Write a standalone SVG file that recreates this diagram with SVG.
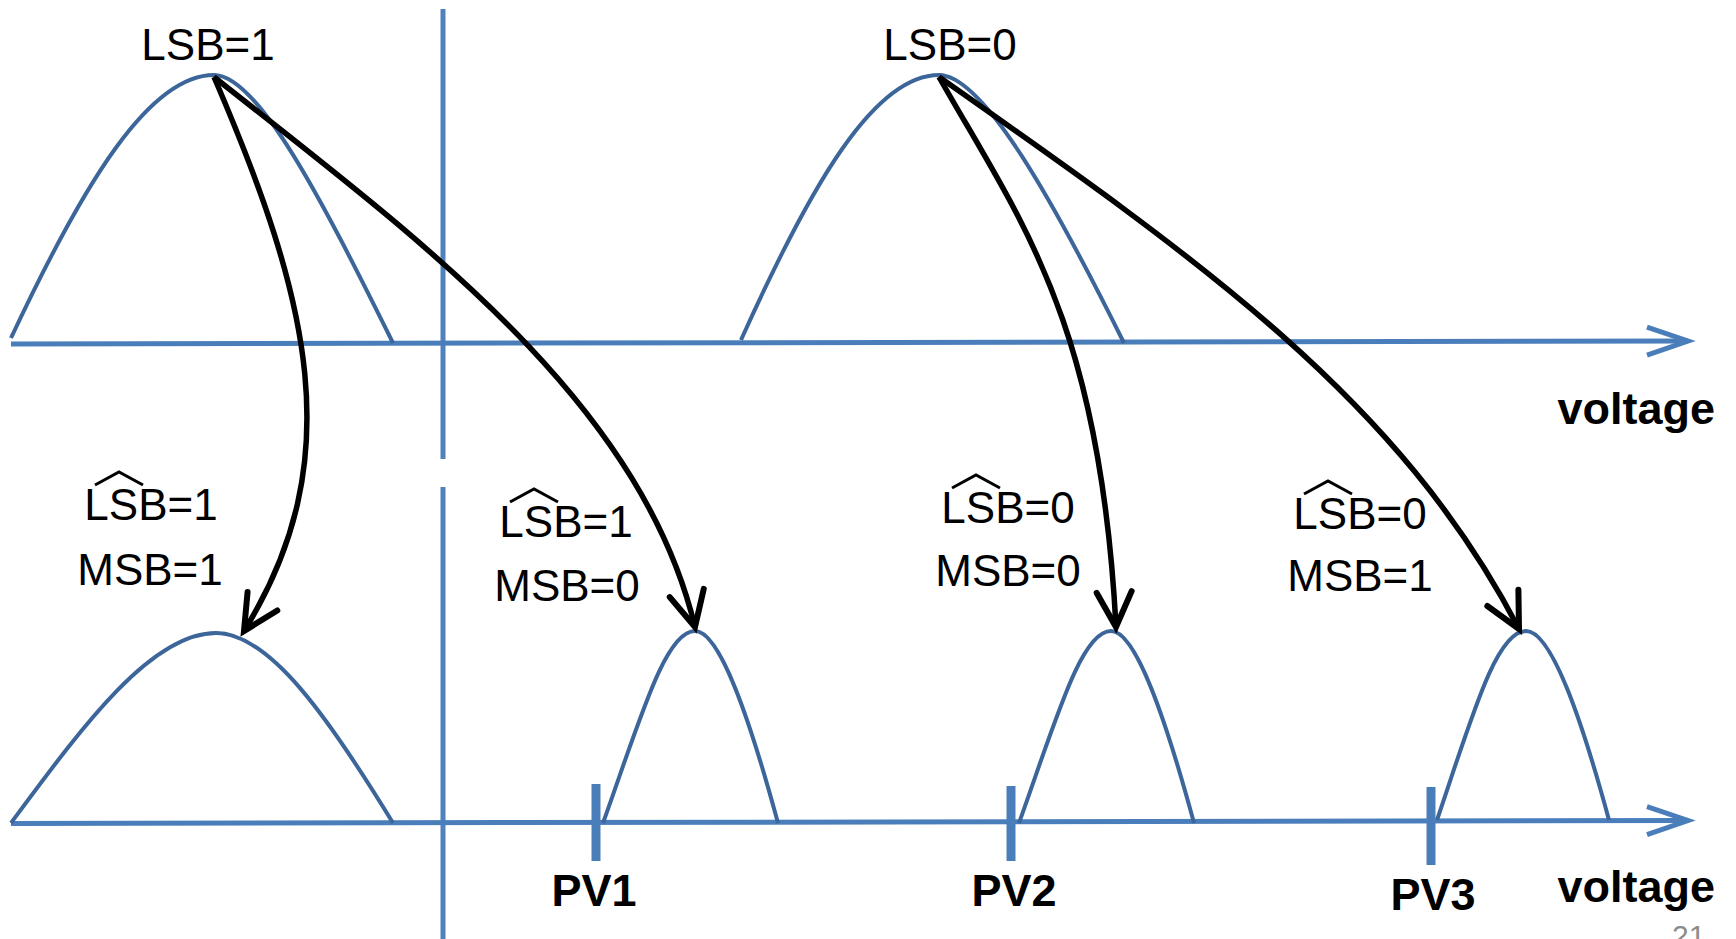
<svg xmlns="http://www.w3.org/2000/svg" width="1736" height="939" viewBox="0 0 1736 939">
<style>
.axis{stroke:#4a7ebb;stroke-width:5;fill:none}
.vline{stroke:#4f81bd;stroke-width:5;fill:none}
.tick{stroke:#4a7ebb;stroke-width:9;fill:none}
.bell{stroke:#3c659a;stroke-width:4;fill:none}
.conn{stroke:#000;stroke-width:5.5;fill:none}
.hat{stroke:#000;stroke-width:3;fill:none}
.lbl{font-family:"Liberation Sans",Arial,sans-serif;font-size:44px;fill:#000;text-anchor:middle}
.bold{font-family:"Liberation Sans",Arial,sans-serif;font-size:45px;font-weight:bold;fill:#000}
</style>
<defs>
<marker id="blk" markerUnits="userSpaceOnUse" markerWidth="70" markerHeight="70" viewBox="-45 -35 70 70" refX="0" refY="0" orient="auto">
<path d="M-35,-17.5 L0,0 L-35,17.5" stroke="#000" stroke-width="6" fill="none" stroke-linecap="round"/>
</marker>
<marker id="blu" markerUnits="userSpaceOnUse" markerWidth="70" markerHeight="50" viewBox="-50 -25 70 50" refX="0" refY="0" orient="auto">
<path d="M-41,-14 L0,0 L-41,14" stroke="#4a7ebb" stroke-width="5" fill="none"/>
</marker>
</defs>
<rect width="1736" height="939" fill="#fff"/>
<g id="axes">
<line class="vline" x1="443" y1="9" x2="443" y2="459"/>
<line class="vline" x1="443" y1="487" x2="443" y2="939"/>
<path class="axis" d="M11,344 L1688,341" marker-end="url(#blu)"/>
<path class="axis" d="M11,823.5 L1688,820.5" marker-end="url(#blu)"/>
<text class="bold" x="1715" y="424" text-anchor="end">voltage</text>
<text class="bold" x="1715" y="902" text-anchor="end">voltage</text>
</g>
<g id="top-lsb1">
<path class="bell" d="M11,338 C 85,180 150,75 214,75 C 258,75 322,200 393,343"/>
<text class="lbl" x="208" y="60">LSB=1</text>
</g>
<g id="top-lsb0">
<path class="bell" d="M741,340 C 812,182 875,75 939,75 C 983,75 1053,200 1124,343"/>
<text class="lbl" x="950" y="60">LSB=0</text>
</g>
<g id="bot-11">
<path class="bell" d="M11,823 C 80,730 150,633 216,633 C 270,633 330,720 393,823"/>
<text class="lbl" x="151" y="520">LSB=1</text>
<path class="hat" d="M95,485 L119,472 L143,485"/>
<text class="lbl" x="150" y="585">MSB=1</text>
</g>
<g id="bot-10">
<path class="bell" d="M603,823 C 640,720 665,631 695,631 C 720,631 750,720 778,823"/>
<text class="lbl" x="566" y="537">LSB=1</text>
<path class="hat" d="M510,502 L534,489 L558,502"/>
<text class="lbl" x="567" y="601">MSB=0</text>
<line class="tick" x1="596" y1="784" x2="596" y2="861"/>
<text class="bold" x="594" y="906" text-anchor="middle">PV1</text>
</g>
<g id="bot-00">
<path class="bell" d="M1019,823 C 1056,720 1081,631 1111,631 C 1136,631 1166,720 1194,823"/>
<text class="lbl" x="1008" y="523">LSB=0</text>
<path class="hat" d="M952,488 L976,475 L1000,488"/>
<text class="lbl" x="1008" y="586">MSB=0</text>
<line class="tick" x1="1011" y1="786" x2="1011" y2="861"/>
<text class="bold" x="1014" y="906" text-anchor="middle">PV2</text>
</g>
<g id="bot-01">
<path class="bell" d="M1437,820 C 1472,717 1496,631 1526,631 C 1551,631 1581,717 1609,820"/>
<text class="lbl" x="1360" y="529">LSB=0</text>
<path class="hat" d="M1304,494 L1328,481 L1352,494"/>
<text class="lbl" x="1360" y="591">MSB=1</text>
<line class="tick" x1="1431" y1="787" x2="1431" y2="865"/>
<text class="bold" x="1433" y="910" text-anchor="middle">PV3</text>
</g>
<g id="connectors">
<path class="conn" d="M214,77 C 310,300 350,460 244,631" marker-end="url(#blk)"/>
<path class="conn" d="M214,77 C 420,240 640,400 695,627" marker-end="url(#blk)"/>
<path class="conn" d="M939,77 C 1020,220 1100,320 1116,627" marker-end="url(#blk)"/>
<path class="conn" d="M939,77 C 1200,260 1400,400 1519,629" marker-end="url(#blk)"/>
</g>
<text x="1672" y="946" style="font-family:'Liberation Sans',Arial,sans-serif;font-size:30px;fill:#8c8c8c">21</text>
</svg>
